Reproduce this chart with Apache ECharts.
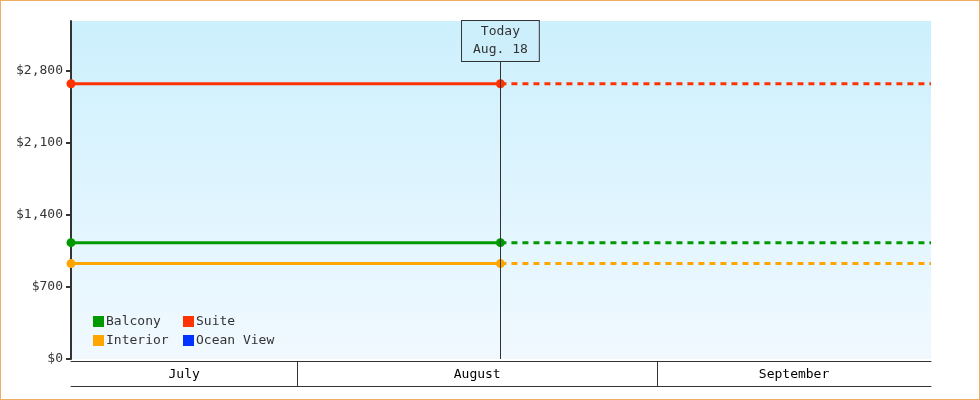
<!DOCTYPE html>
<html>
<head>
<meta charset="utf-8">
<script src="https://cdn.jsdelivr.net/npm/echarts@6/dist/echarts.min.js"></script>
<style>
  html, body { margin: 0; padding: 0; background: #fff; }
  #chart { width: 980px; height: 400px; box-sizing: border-box; border: 1px solid #efae64; }
</style>
</head>
<body>
<div id="chart"></div>
<script>
// days counted from July 1
var dayStart = 11.5;
var dayToday = 48.5;
var dayEnd = 85.6;
var monthNames = ['July', 'August', 'September'];
var monthStarts = [0, 31, 62, 92];

var cabinNames = ['Balcony', 'Suite', 'Interior', 'Ocean View'];
var cabinColors = ['#009900', '#ff3300', '#ffa500', '#0033ff'];
var cabinPrices = [1130, 2674, 927, null];

var yTicks = [0, 700, 1400, 2100, 2800];
var yMax = 3283;
var todayLabel = 'Today\nAug. 18';

var font = 'DejaVu Sans Mono';

var chart = echarts.init(document.getElementById('chart'));

// month boundaries inside the visible range, and label centres
var bounds = [];
var centres = [];
for (var i = 0; i < monthNames.length; i++) {
    var a = Math.max(monthStarts[i], dayStart);
    var b = Math.min(monthStarts[i + 1], dayEnd);
    centres.push((a + b) / 2);
    if (monthStarts[i + 1] < dayEnd) bounds.push(monthStarts[i + 1]);
}

var series = [];
cabinNames.forEach(function (name, i) {
    var p = cabinPrices[i];
    var past = p == null ? [] : [[dayStart, p], [dayToday, p]];
    var future = p == null ? [] : [[dayToday, p], [dayEnd, p]];
    series.push({
        name: name,
        type: 'line',
        data: past,
        color: cabinColors[i],
        symbol: 'circle',
        symbolSize: 9,
        lineStyle: { width: 3 },
        z: 3
    });
    series.push({
        name: name,
        type: 'line',
        data: future,
        color: cabinColors[i],
        showSymbol: false,
        lineStyle: { width: 3, type: [6, 5] },
        z: 2
    });
});

// today marker
series.push({
    type: 'line',
    data: [],
    silent: true,
    markLine: {
        symbol: 'none',
        silent: true,
        lineStyle: { color: '#333', width: 1, type: 'solid' },
        label: {
            show: true,
            position: 'end',
            distance: -40,
            formatter: todayLabel,
            fontFamily: font,
            fontSize: 13,
            color: '#333',
            lineHeight: 18,
            align: 'center',
            backgroundColor: '#cdeffc',
            borderColor: '#333',
            borderWidth: 1,
            padding: [2, 11, 2, 11]
        },
        data: [{ xAxis: dayToday }]
    },
    z: 1
});

var option = {
    animation: false,
    textStyle: { fontFamily: font },
    grid: [
        {
            left: 70, right: 48, top: 20, bottom: 40,
            show: true,
            borderWidth: 0,
            backgroundColor: new echarts.graphic.LinearGradient(0, 0, 0, 1, [
                { offset: 0, color: '#ccf0fd' },
                { offset: 1, color: '#f1f9ff' }
            ])
        },
        { left: 70, right: 48, top: 360, height: 25 }
    ],
    legend: [
        {
            data: ['Balcony', 'Interior'],
            orient: 'vertical',
            left: 87, top: 309,
            itemWidth: 11, itemHeight: 11, itemGap: 6,
            icon: 'rect',
            textStyle: { fontFamily: font, fontSize: 13, color: '#333', padding: [0, 0, 0, -3] }
        },
        {
            data: ['Suite', 'Ocean View'],
            orient: 'vertical',
            left: 177, top: 309,
            itemWidth: 11, itemHeight: 11, itemGap: 6,
            icon: 'rect',
            textStyle: { fontFamily: font, fontSize: 13, color: '#333', padding: [0, 0, 0, -3] }
        }
    ],
    xAxis: [
        {
            type: 'value', gridIndex: 0,
            min: dayStart, max: dayEnd,
            axisLine: { show: false },
            axisTick: { show: false },
            axisLabel: { show: false },
            splitLine: { show: false }
        },
        {
            type: 'value', gridIndex: 1, position: 'top',
            min: dayStart, max: dayEnd,
            axisLine: { show: true, onZero: false, lineStyle: { color: '#333', width: 1 } },
            axisTick: {
                show: true, inside: true, length: 25,
                customValues: bounds,
                lineStyle: { color: '#333', width: 1 }
            },
            axisLabel: {
                show: true, inside: true, margin: 7,
                customValues: centres,
                formatter: function (v) {
                    for (var k = 0; k < centres.length; k++) {
                        if (Math.abs(centres[k] - v) < 0.01) return monthNames[k];
                    }
                    return '';
                },
                fontFamily: font, fontSize: 13, color: '#000'
            },
            splitLine: { show: false }
        },
        {
            type: 'value', gridIndex: 1, position: 'bottom',
            min: dayStart, max: dayEnd,
            axisLine: { show: true, onZero: false, lineStyle: { color: '#333', width: 1 } },
            axisTick: { show: false },
            axisLabel: { show: false },
            splitLine: { show: false }
        }
    ],
    yAxis: [
        {
            type: 'value', gridIndex: 0,
            min: 0, max: yMax,
            axisLine: { show: true, lineStyle: { color: '#333', width: 2 } },
            axisTick: {
                show: true, length: 5, customValues: yTicks,
                lineStyle: { color: '#333', width: 2 }
            },
            axisLabel: {
                customValues: yTicks,
                margin: 8,
                fontFamily: font, fontSize: 13, color: '#333',
                formatter: function (v) { return '$' + v.toLocaleString('en-US'); }
            },
            splitLine: { show: false }
        },
        {
            type: 'value', gridIndex: 1,
            show: false
        }
    ],
    series: series
};

chart.setOption(option);
</script>
</body>
</html>
